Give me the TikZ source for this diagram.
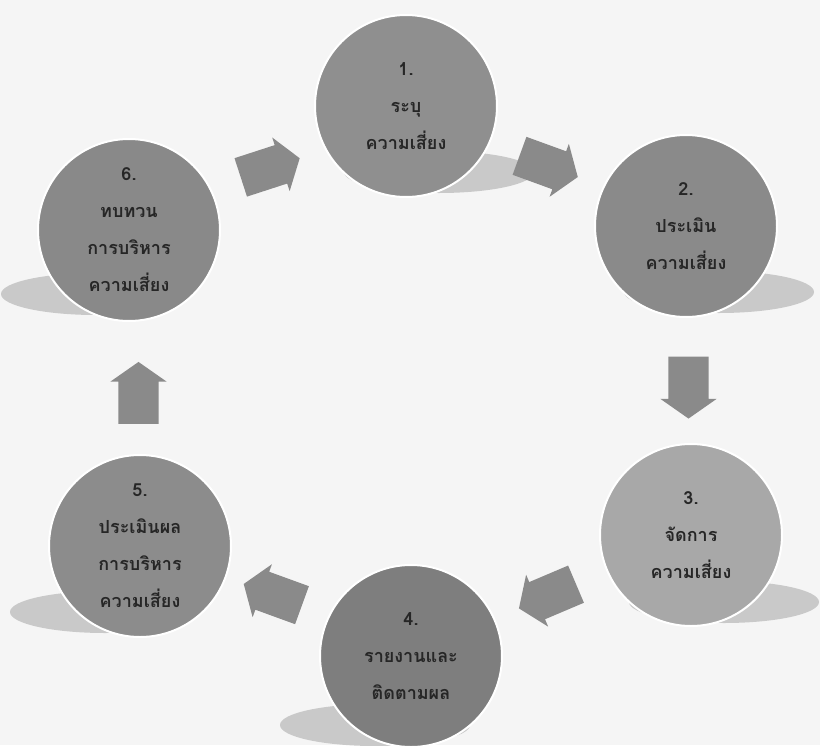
\documentclass[tikz,border=0pt]{standalone}
\usepackage{fontspec}
\newfontfamily\thaifont[Script=Thai]{Loma}
\usetikzlibrary{shapes.arrows,calc}
\definecolor{bgc}{HTML}{F5F5F5}
\definecolor{shd}{HTML}{C9C9C9}
\definecolor{txt}{HTML}{262626}
\definecolor{arr}{HTML}{8A8A8A}
\definecolor{gA}{HTML}{8F8F8F}
\definecolor{gB}{HTML}{8A8A8A}
\definecolor{gC}{HTML}{A8A8A8}
\definecolor{gD}{HTML}{7E7E7E}
\definecolor{gE}{HTML}{8C8C8C}
\definecolor{gF}{HTML}{898989}
\begin{document}
\begin{tikzpicture}[x=1pt,y=-1pt,
  stage/.style={circle, minimum size=182pt, inner sep=0pt, draw=white, line width=2pt,
    font=\thaifont\bfseries\fontsize{18}{37}\selectfont, text=txt, align=center},
  blockarrow/.style={single arrow, fill=arr, draw=none, minimum height=62pt,
    inner xsep=0pt, inner ysep=20pt, single arrow head extend=8pt,
    single arrow tip angle=110},
  shadowR/.style={fill=shd},
]
\fill[bgc] (0,0) rectangle (820,745);
\useasboundingbox (0,0) rectangle (820,745);
% centres
\coordinate (p1) at (406,106);
\coordinate (p2) at (686,226);
\coordinate (p3) at (691,535);
\coordinate (p4) at (411,656);
\coordinate (p5) at (140,546);
\coordinate (p6) at (129,230);
% shadows
\fill[shadowR] ($(p1)+(33,66)$) ellipse [x radius=95pt, y radius=21pt];
\fill[shadowR] ($(p2)+(33,66)$) ellipse [x radius=95pt, y radius=21pt];
\fill[shadowR] ($(p3)+(33,67)$) ellipse [x radius=95pt, y radius=21pt];
\fill[shadowR] ($(p4)+(-36,69)$) ellipse [x radius=95pt, y radius=21pt];
\fill[shadowR] ($(p5)+(-35,66)$) ellipse [x radius=95pt, y radius=21pt];
\fill[shadowR] ($(p6)+(-33,64)$) ellipse [x radius=95pt, y radius=21pt];
% stages
\node[stage, fill=gA] (c1) at (p1) {1.\\ระบุ\\ความเสี่ยง};
\node[stage, fill=gB] (c2) at (p2) {2.\\ประเมิน\\ความเสี่ยง};
\node[stage, fill=gC] (c3) at (p3) {3.\\จัดการ\\ความเสี่ยง};
\node[stage, fill=gD] (c4) at (p4) {4.\\รายงานและ\\ติดตามผล};
\node[stage, fill=gE] (c5) at (p5) {5.\\ประเมินผล\\การบริหาร\\ความเสี่ยง};
\node[stage, fill=gF] (c6) at (p6) {6.\\ทบทวน\\การบริหาร\\ความเสี่ยง};
% arrows
\node[blockarrow, rotate=18] (a61) at ($(c6)!0.5!(c1)+(-4,2)$) {};
\node[blockarrow, rotate=-20] (a12) at ($(c1)!0.5!(c2)+(-4,-2)$) {};
\node[blockarrow, rotate=-90] (a23) at ($(c2)!0.5!(c3)$) {};
\node[blockarrow, rotate=203] (a34) at ($(c3)!0.5!(c4)+(3,-2)$) {};
\node[blockarrow, rotate=160] (a45) at ($(c4)!0.5!(c5)+(4,-4)$) {};
\node[blockarrow, rotate=90] (a56) at ($(c5)!0.5!(c6)+(4,12)$) {};
\end{tikzpicture}
\end{document}
